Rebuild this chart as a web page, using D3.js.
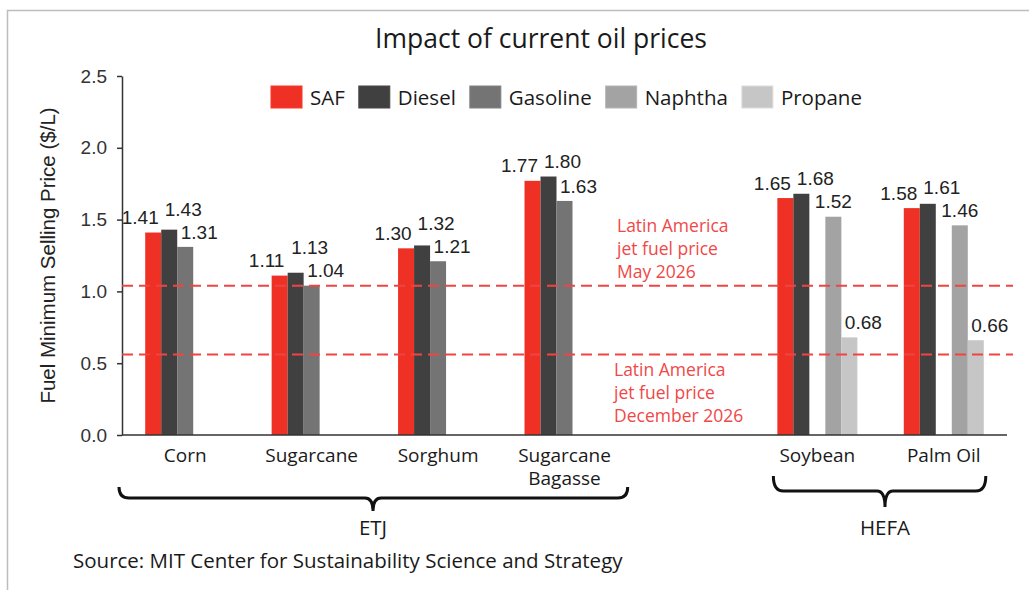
<!DOCTYPE html>
<html lang="en">
<head>
<meta charset="UTF-8">
<title>Impact of current oil prices</title>
<script src="https://d3js.org/d3.v7.min.js"></script>
<style>
    body { margin: 0; background: #fff; }
    svg { display: block; }
    .sans { font-family: "Open Sans", "Liberation Sans", sans-serif; }
    .arial { font-family: "Liberation Sans", Arial, sans-serif; }
</style>
</head>
<body>
<svg width="1029" height="590"></svg>
<script>
    // Chart data
    const categories = ["Corn", "Sugarcane", "Sorghum", "Sugarcane\nBagasse", "", "Soybean", "Palm Oil"];
    const seriesNames = ["SAF", "Diesel", "Gasoline", "Naphtha", "Propane"];
    const safValues      = [1.41, 1.11, 1.30, 1.77, null, 1.65, 1.58];
    const dieselValues   = [1.43, 1.13, 1.32, 1.80, null, 1.68, 1.61];
    const gasolineValues = [1.31, 1.04, 1.21, 1.63, null, null, null];
    const naphthaValues  = [null, null, null, null, null, 1.52, 1.46];
    const propaneValues  = [null, null, null, null, null, 0.68, 0.66];
    const yTicks = [0, 0.5, 1.0, 1.5, 2.0, 2.5];
    const refValues = [1.04, 0.56];
    const refLabels = [["Latin America", "jet fuel price", "May 2026"],
                       ["Latin America", "jet fuel price", "December 2026"]];
    const groupNames = ["ETJ", "HEFA"];
    const groupRanges = [[0, 3], [5, 6]];

    const seriesValues = [safValues, dieselValues, gasolineValues, naphthaValues, propaneValues];
    const colors = ["#ee3124", "#404040", "#747474", "#a3a3a3", "#c6c6c6"];
    const labelDx = [-13, 14, 14, 0, 14];

    const svg = d3.select("svg");

    // light frame around the figure
    svg.append("rect")
        .attr("x", 7.5).attr("y", 10.5)
        .attr("width", 1040).attr("height", 600)
        .attr("fill", "none").attr("stroke", "#bdbdbd").attr("stroke-width", 1.5);

    const plotLeft = 122, plotRight = 1007, plotTop = 76, plotBottom = 435;

    const y = d3.scaleLinear().domain([0, 2.5]).range([plotBottom, plotTop]);
    const x0 = d3.scaleBand().domain(d3.range(categories.length)).range([plotLeft, plotRight]);
    const clusterW = 80;
    const x1 = d3.scaleBand().domain(seriesNames)
        .range([(x0.bandwidth() - clusterW) / 2, (x0.bandwidth() + clusterW) / 2]);

    // title
    svg.append("text")
        .attr("class", "sans")
        .attr("x", 541).attr("y", 39)
        .attr("dy", "0.35em")
        .attr("text-anchor", "middle")
        .attr("font-size", 26.5)
        .attr("fill", "#1a1a1a")
        .text("Impact of current oil prices");

    // y axis
    const yAxis = svg.append("g")
        .attr("class", "arial")
        .attr("transform", `translate(${plotLeft},0)`)
        .call(d3.axisLeft(y).tickValues(yTicks).tickFormat(d3.format(".1f"))
            .tickSize(5).tickSizeOuter(0).tickPadding(10));
    yAxis.select(".domain").attr("stroke", "#333").attr("stroke-width", 1.5);
    yAxis.selectAll(".tick line").attr("stroke", "#333").attr("stroke-width", 1.5);
    yAxis.selectAll(".tick text").attr("font-size", 19).attr("fill", "#333");

    svg.append("text")
        .attr("class", "arial")
        .attr("transform", `translate(48,${(plotTop + plotBottom) / 2}) rotate(-90)`)
        .attr("dy", "0.35em")
        .attr("text-anchor", "middle")
        .attr("font-size", 20.5)
        .attr("fill", "#222")
        .text("Fuel Minimum Selling Price ($/L)");

    // bars
    const barData = [];
    categories.forEach((c, i) => {
        seriesNames.forEach((s, j) => {
            const v = seriesValues[j][i];
            if (v != null) barData.push({ cat: i, s: s, si: j, v: v });
        });
    });

    svg.append("g").selectAll("rect")
        .data(barData)
        .enter().append("rect")
        .attr("x", d => x0(d.cat) + x1(d.s))
        .attr("y", d => y(d.v))
        .attr("width", x1.bandwidth())
        .attr("height", d => y(0) - y(d.v))
        .attr("fill", d => colors[d.si]);

    // x baseline
    svg.append("line")
        .attr("x1", plotLeft).attr("x2", plotRight)
        .attr("y1", y(0)).attr("y2", y(0))
        .attr("stroke", "#333").attr("stroke-width", 1.5);

    // reference lines
    svg.append("g").selectAll("line")
        .data(refValues)
        .enter().append("line")
        .attr("x1", plotLeft).attr("x2", plotRight + 6)
        .attr("y1", d => y(d)).attr("y2", d => y(d))
        .attr("stroke", "#f04444")
        .attr("stroke-width", 2)
        .attr("stroke-dasharray", "11,6");

    // reference labels: first sits above its line, second below
    refLabels.forEach((lines, k) => {
        const startY = k === 0 ? y(refValues[0]) - 60 : y(refValues[1]) + 15;
        svg.append("text")
            .attr("class", "sans")
            .attr("font-size", 17.5)
            .attr("fill", "#f04848")
            .selectAll("tspan")
            .data(lines)
            .enter().append("tspan")
            .attr("x", k === 0 ? 617 : 614)
            .attr("y", (d, i) => startY + i * 23)
            .attr("dy", "0.35em")
            .text(d => d);
    });

    // value labels, with diesel lifted clear of its neighbour
    const labels = barData.map(d => ({
        d: d,
        x: x0(d.cat) + x1(d.s) + x1.bandwidth() / 2 + labelDx[d.si],
        cy: y(d.v) - 15
    }));
    labels.forEach(l => {
        if (l.d.s !== "Diesel") return;
        const next = labels.find(o => o.d.cat === l.d.cat && o.d.si > l.d.si);
        if (next) l.cy = Math.min(l.cy, next.cy - 23);
    });

    svg.append("g").selectAll("text")
        .data(labels)
        .enter().append("text")
        .attr("class", "arial")
        .attr("x", l => l.x)
        .attr("y", l => l.cy)
        .attr("dy", "0.35em")
        .attr("text-anchor", "middle")
        .attr("font-size", 19)
        .attr("fill", "#222")
        .text(l => l.d.v.toFixed(2));

    // category labels
    svg.append("g").selectAll("text")
        .data(categories.map((c, i) => ({ c: c, i: i })).filter(d => d.c !== ""))
        .enter().append("text")
        .attr("class", "sans")
        .attr("text-anchor", "middle")
        .attr("font-size", 19)
        .attr("fill", "#1a1a1a")
        .each(function (d) {
            d3.select(this).selectAll("tspan")
                .data(d.c.split("\n"))
                .enter().append("tspan")
                .attr("x", x0(d.i) + x0.bandwidth() / 2)
                .attr("y", (t, k) => 455 + k * 23)
                .attr("dy", "0.35em")
                .text(t => t);
        });

    // legend
    const legend = svg.append("g").attr("class", "sans");
    let lx = 271;
    seriesNames.forEach((s, j) => {
        legend.append("rect")
            .attr("x", lx).attr("y", 86)
            .attr("width", 31).attr("height", 22)
            .attr("fill", colors[j])
            .attr("stroke", d3.color(colors[j]).brighter(0.3))
            .attr("stroke-width", 1);
        const t = legend.append("text")
            .attr("x", lx + 39).attr("y", 98)
            .attr("dy", "0.35em")
            .attr("font-size", 20.5)
            .attr("fill", "#1a1a1a")
            .text(s);
        lx += 39 + t.node().getComputedTextLength() + 14;
    });

    // curly braces under the groups
    function brace(xa, xb, tip, yEnd, yMid, yTip) {
        const r = 10, r2 = 8;
        return `M${xa},${yEnd} Q${xa},${yMid} ${xa + r},${yMid} L${tip - r2},${yMid} ` +
            `Q${tip},${yMid} ${tip},${yTip} Q${tip},${yMid} ${tip + r2},${yMid} ` +
            `L${xb - r},${yMid} Q${xb},${yMid} ${xb},${yEnd}`;
    }
    const braceShapes = [
        { a: plotLeft - 3, b: x0(groupRanges[0][1]) + x0.bandwidth(), ends: 487, mid: 498, tip: 511 },
        { a: x0(groupRanges[1][0]) + x1("SAF") - 4, b: x0(groupRanges[1][1]) + x1("Propane") + x1.bandwidth() + 2, ends: 476, mid: 491, tip: 507 }
    ];
    braceShapes.forEach((b, k) => {
        const tipX = k === 0 ? 373 : 885;
        svg.append("path")
            .attr("d", brace(b.a, b.b, tipX, b.ends, b.mid, b.tip))
            .attr("fill", "none")
            .attr("stroke", "#111")
            .attr("stroke-width", 3);
        svg.append("text")
            .attr("class", "sans")
            .attr("x", tipX).attr("y", 528)
            .attr("dy", "0.35em")
            .attr("text-anchor", "middle")
            .attr("font-size", 20.5)
            .attr("fill", "#1a1a1a")
            .text(groupNames[k]);
    });

    // source note
    svg.append("text")
        .attr("class", "sans")
        .attr("x", 73).attr("y", 561)
        .attr("dy", "0.35em")
        .attr("font-size", 20.5)
        .attr("fill", "#1a1a1a")
        .text("Source: MIT Center for Sustainability Science and Strategy");
</script>
</body>
</html>
